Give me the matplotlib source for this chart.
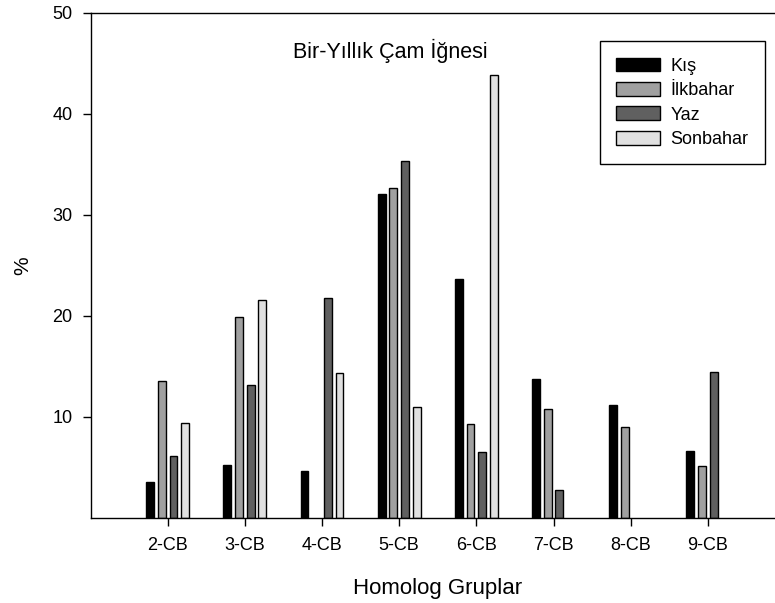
import matplotlib.pyplot as plt
import numpy as np

plt.rcParams['font.family'] = ['Liberation Sans', 'DejaVu Sans']

# Homolog gruplar ve mevsimlere göre yüzde dağılımı
gruplar = ['2-CB', '3-CB', '4-CB', '5-CB', '6-CB', '7-CB', '8-CB', '9-CB']
kis = [3.6, 5.2, 4.6, 32.0, 23.6, 13.7, 11.2, 6.6]
ilkbahar = [13.6, 19.9, 0, 32.6, 9.3, 10.8, 9.0, 5.1]
yaz = [6.1, 13.2, 21.8, 35.3, 6.5, 2.8, 0, 14.4]
sonbahar = [9.4, 21.6, 14.3, 11.0, 43.8, 0, 0, 0]

seriler = [
    ('Kış', kis, '#000000'),
    ('İlkbahar', ilkbahar, '#a0a0a0'),
    ('Yaz', yaz, '#606060'),
    ('Sonbahar', sonbahar, '#e0e0e0'),
]

fig = plt.figure(figsize=(7.75, 6.03), dpi=100)
# eksen sağ kenarı şeklin dışına taşıyor
ax = fig.add_axes([90.5 / 775, 85 / 603, 694.5 / 775, 505.5 / 603])

x = np.arange(1, len(gruplar) + 1)
aralik = 0.151
genislik = 0.1
for i, (ad, degerler, renk) in enumerate(seriler):
    konum = x + (i - 1.5) * aralik
    yukseklik = np.array(degerler, dtype=float)
    maske = yukseklik > 0
    ax.bar(konum[maske], yukseklik[maske], width=genislik, color=renk,
           edgecolor='black', linewidth=1.0, label=ad)

ax.set_xlim(0, 9)
ax.set_ylim(0, 50)
ax.set_xticks(x)
ax.set_xticklabels(gruplar, fontsize=13)
ax.set_yticks([10, 20, 30, 40, 50])
ax.tick_params(axis='y', labelsize=13, direction='out', length=6, width=1, pad=7)
ax.tick_params(axis='x', direction='out', length=6, width=1, pad=8)
ax.spines['right'].set_visible(False)
for s in ['left', 'top', 'bottom']:
    ax.spines[s].set_linewidth(1.0)

ax.set_xlabel('Homolog Gruplar', fontsize=16, labelpad=17)
ax.set_ylabel('%', fontsize=15)
ax.yaxis.set_label_coords(-0.084, 0.5)

ax.text(3.88, 46.2, 'Bir-Yıllık Çam İğnesi', fontsize=15.5, ha='center', va='center')

leg = ax.legend(loc='upper left', bbox_to_anchor=(600 / 775, 561.7 / 603),
                bbox_transform=fig.transFigure, borderaxespad=0,
                fancybox=False, edgecolor='black', fontsize=13,
                handlelength=2.4, handleheight=0.8, handletextpad=0.6,
                labelspacing=0.4, borderpad=0.9, framealpha=1)
leg.get_frame().set_linewidth(1.0)

fig.savefig('out.png', dpi=100)
